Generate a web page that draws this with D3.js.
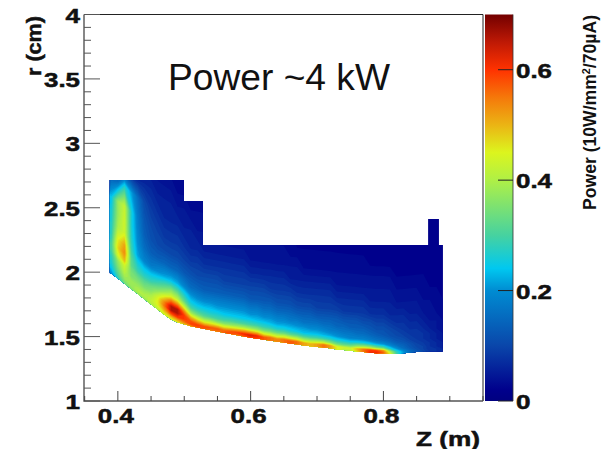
<!doctype html>
<meta charset="utf-8">
<title>Power ~4 kW</title>
<script src="https://cdn.jsdelivr.net/npm/d3@7"></script>
<style>
  html, body { margin: 0; background: white; }
  svg { display: block; }
  text { font-family: "Liberation Sans", sans-serif; fill: #111; }
  .tick-label, .axis-title, .bar-title { font-weight: bold; }
  .tick-label, .axis-title { stroke: #111; stroke-width: 0.5; }
</style>
<body>
<svg id="chart" width="606" height="449"></svg>
<script>

// Z of each profile column (m)
var zColumns = [0.39,0.40,0.41,0.42,0.43,0.44,0.45,0.46,0.47,0.48,0.49,0.50,0.51,0.52,0.53,0.54,0.55,0.56,0.57,0.58,0.59,
  0.60,0.61,0.62,0.63,0.64,0.65,0.66,0.67,0.68,0.69,0.70,0.71,0.72,0.73,0.74,0.75,0.76,0.77,0.78,0.79,
  0.80,0.81,0.82,0.83,0.84,0.85,0.86,0.87,0.88,0.89];

// lower edge of the map at each column (cm)
var floorR = [1.99,1.95,1.91,1.87,1.83,1.79,1.75,1.71,1.67,1.635,1.61,1.595,1.58,1.57,1.56,1.55,1.54,1.53,1.52,1.51,1.50,
  1.49,1.485,1.475,1.47,1.46,1.455,1.445,1.44,1.43,1.425,1.42,1.415,1.41,1.40,1.395,1.39,1.385,1.38,1.375,1.37,
  1.37,1.365,1.365,1.37,1.375,1.38,1.385,1.385,1.385,1.385];

// height above the lower edge of each profile sample (cm)
var heights = [0,0.02,0.04,0.07,0.10,0.14,0.18,0.24,0.30,0.40,0.50,0.60,0.75,0.90,1.10,1.35];

// upper outline of the map, left to right [z, r]
var topOutline = [[0.388,1.99],[0.388,2.715],[0.4994,2.715],[0.4994,2.552],[0.528,2.552],[0.528,2.21],
  [0.868,2.21],[0.868,2.412],[0.883,2.412],[0.883,2.21],[0.889,2.21],[0.889,1.385]];

// power x100, one list per Z column, one entry per height
var powerProfiles = [
  [20,22,24,26,27,28,30,30,28,27,26,24,14,5,4,4],
  [28,30,32,34,36,38,44,48,46,40,38,38,16,5,4,4],
  [34,36,38,40,42,44,50,54,52,44,44,43,28,5,4,4],
  [36,38,38,38,36,35,33,32,30,28,27,27,22,5,4,4],
  [38,40,40,38,36,33,29,26,22,20,19,18,16,6,4,4],
  [38,40,40,38,35,32,28,24,19,16,14,13,11,7,4,4],
  [40,42,42,40,37,34,29,24,18,14,12,11,9,7,4,4],
  [42,44,46,46,44,38,33,26,20,14,11,10,8,6,4,4],
  [44,48,52,56,54,46,38,30,22,15,11,9,7,6,4,4],
  [44,50,58,66,66,56,44,34,24,15,11,9,7,6,4,4],
  [46,52,60,66,66,54,42,32,23,15,11,9,7,5,3,3],
  [50,56,60,60,54,42,33,26,19,13,10,8,6,5,3,3],
  [54,60,58,50,40,31,26,21,16,12,9,7,6,4,3,3],
  [58,60,54,44,35,28,24,19,15,11,9,7,5,4,3,3],
  [58,58,50,40,32,27,23,18,14,11,8,6,5,4,3,3],
  [56,58,50,40,31,26,23,18,14,11,8,6,5,4,3,3],
  [56,58,50,38,30,26,22,18,14,11,8,6,4,3,3,3],
  [58,56,48,37,30,25,22,18,14,10,8,6,4,3,3,3],
  [58,58,50,38,31,25,22,18,14,10,8,6,4,3,3,3],
  [56,60,52,39,31,25,22,18,14,10,8,6,4,3,3,3],
  [58,62,54,40,31,25,22,18,14,10,8,6,4,3,3,3],
  [60,64,54,40,31,25,21,17,13,10,7,5,4,3,3,3],
  [60,62,52,38,30,24,21,17,13,10,7,5,4,3,2,2],
  [58,58,48,36,29,24,20,16,13,10,7,5,4,3,2,2],
  [56,56,46,35,28,23,20,16,13,9,7,5,4,3,2,2],
  [54,54,45,34,27,22,19,15,12,9,7,5,4,3,2,2],
  [56,56,46,34,27,22,19,15,12,9,7,5,4,3,2,2],
  [58,58,46,33,26,22,18,15,12,9,6,5,3,3,2,2],
  [56,56,44,32,25,21,18,14,11,8,6,5,3,2,2,2],
  [52,52,42,31,24,21,17,14,11,8,6,4,3,2,2,2],
  [50,50,41,30,24,20,17,14,11,8,6,4,3,2,2,2],
  [52,52,42,30,24,20,17,13,10,8,6,4,3,2,2,2],
  [56,56,42,29,23,19,16,13,10,8,6,4,3,2,2,2],
  [52,52,38,28,22,18,16,13,10,8,6,4,3,2,2,2],
  [46,46,35,27,21,18,15,13,10,7,5,4,3,2,2,2],
  [42,44,34,26,20,17,15,12,9,7,5,4,3,2,2,2],
  [42,44,34,25,19,17,14,12,9,7,5,4,3,2,2,2],
  [48,50,38,26,19,16,14,12,9,7,5,4,3,2,2,2],
  [56,56,40,26,19,16,14,11,9,7,5,4,3,2,2,2],
  [62,60,40,25,18,15,13,11,8,6,5,4,2,2,2,2],
  [62,60,38,23,17,14,12,10,8,6,5,4,2,2,2,2],
  [58,54,34,21,16,13,12,10,8,6,5,4,2,2,2,2],
  [46,40,27,19,15,12,11,9,7,6,5,4,2,2,2,2],
  [30,28,21,16,13,11,10,8,7,5,4,3,2,2,2,2],
  [22,20,16,14,12,10,9,8,7,5,4,3,2,2,2,2],
  [16,15,13,12,10,9,8,7,6,5,4,3,2,2,2,2],
  [13,12,11,10,9,8,8,7,6,5,4,3,2,2,2,2],
  [11,10,10,9,8,8,7,6,5,4,3,3,2,2,2,2],
  [9,8,8,8,7,7,6,5,4,4,3,2,2,2,2,2],
  [8,8,7,7,6,6,5,5,4,3,3,2,2,2,2,2],
  [7,7,6,6,5,5,4,4,3,3,2,2,2,2,2,2]
];

// palette of the colour bar
var colorStops = [0,0.02,0.1,0.2,0.24,0.3,0.4,0.45,0.5,0.55,0.6,0.65,0.7];
var colorValues = ['#000080','#00008c','#0a46aa','#008cd2','#00c8f0','#46d2a0','#aff046','#dcf51e','#ebb414','#f5780a','#ff3200','#be1905','#730000'];

var zTicks = [0.4,0.6,0.8];
var rTicks = [1,1.5,2,2.5,3,3.5,4];
var barTicks = [0,0.2,0.4,0.6];

var plot = { left: 84, right: 483, top: 14.5, bottom: 401 };
var bar = { left: 485, right: 513 };

var x = d3.scaleLinear().domain([0.349,0.95]).range([plot.left,plot.right]);
var y = d3.scaleLinear().domain([1,4]).range([plot.bottom,plot.top]);
var barY = d3.scaleLinear().domain([0,0.7]).range([plot.bottom,plot.top]);
var color = d3.scaleLinear().domain(colorStops).range(colorValues).clamp(true);

var floorAt = d3.scaleLinear().domain(zColumns).range(floorR);
var colToZ = d3.scaleLinear().domain(d3.range(zColumns.length)).range(zColumns);
var rowToH = d3.scaleLinear().domain(d3.range(heights.length)).range(heights);

var svg = d3.select('#chart');
var defs = svg.append('defs');

// map outline: floor going right to left closes the upper outline
var outline = topOutline.concat(zColumns.map(function(z, i) { return [z, floorR[i]]; }).reverse());
defs.append('clipPath').attr('id', 'map-clip')
  .append('path')
  .attr('d', d3.line().x(function(d) { return x(d[0]); }).y(function(d) { return y(d[1]); })(outline) + 'Z');

// flatten the profiles for d3.contours, rows are heights
var flat = [];
heights.forEach(function(h, j) {
  zColumns.forEach(function(z, i) { flat.push(powerProfiles[i][j] / 100); });
});

var contours = d3.contours()
  .size([zColumns.length, heights.length])
  .thresholds(d3.range(0, 0.7, 0.01))(flat);

// contour grid -> (z, height above floor) -> pixels
var toPixels = d3.geoTransform({
  point: function(i, j) {
    var z = colToZ(i - 0.5), h = rowToH(j - 0.5);
    this.stream.point(x(z), y(floorAt(z) + h));
  }
});
var contourPath = d3.geoPath(toPixels);

var map = svg.append('g').attr('clip-path', 'url(#map-clip)');
map.append('rect')
  .attr('x', plot.left).attr('y', plot.top)
  .attr('width', plot.right - plot.left).attr('height', plot.bottom - plot.top)
  .attr('fill', color(0.01));
map.selectAll('path.band')
  .data(contours)
  .enter().append('path')
  .attr('class', 'band')
  .attr('d', contourPath)
  .attr('fill', function(d) { return color(d.value); });

// colour bar
var grad = defs.append('linearGradient').attr('id', 'bar-grad')
  .attr('x1', 0).attr('x2', 0).attr('y1', 1).attr('y2', 0);
colorStops.forEach(function(s, i) {
  grad.append('stop').attr('offset', s / 0.7).attr('stop-color', colorValues[i]);
});
svg.append('rect')
  .attr('x', bar.left).attr('y', plot.top)
  .attr('width', bar.right - bar.left).attr('height', plot.bottom - plot.top)
  .attr('fill', 'url(#bar-grad)');
svg.append('line')
  .attr('x1', bar.right).attr('x2', bar.right).attr('y1', plot.top).attr('y2', plot.bottom)
  .attr('stroke', '#333').attr('stroke-width', 0.8);

// frame: top and right thin, left and bottom heavier grey
svg.append('path')
  .attr('d', 'M' + plot.left + ',' + plot.top + 'H' + plot.right + 'V' + plot.bottom)
  .attr('fill', 'none').attr('stroke', '#222').attr('stroke-width', 1);
svg.append('path')
  .attr('d', 'M' + plot.left + ',' + plot.top + 'V' + plot.bottom + 'H' + plot.right)
  .attr('fill', 'none').attr('stroke', '#555').attr('stroke-width', 1.4);

function drawTicks(values, pos, len, horizontal, x0, stroke) {
  svg.append('g').selectAll('line')
    .data(values)
    .enter().append('line')
    .attr('x1', horizontal ? function(d) { return pos(d); } : x0)
    .attr('x2', horizontal ? function(d) { return pos(d); } : x0 + len)
    .attr('y1', horizontal ? plot.bottom : function(d) { return pos(d); })
    .attr('y2', horizontal ? plot.bottom - len : function(d) { return pos(d); })
    .attr('stroke', stroke).attr('stroke-width', 1);
}

var rMinor = d3.range(1, 4.01, 0.1).filter(function(d) { return Math.abs(d * 2 - Math.round(d * 2)) > 1e-6; });
var zMinor = d3.range(0.35, 0.951, 0.05).filter(function(d) { return zTicks.every(function(t) { return Math.abs(t - d) > 1e-6; }); });
drawTicks(rTicks, y, 16, false, plot.left, '#555');
drawTicks(rMinor, y, 7, false, plot.left, '#555');
drawTicks(zTicks, x, 10, true, 0, '#444');
drawTicks(zMinor, x, 5, true, 0, '#444');
drawTicks(barTicks, barY, 15, false, bar.right - 15, '#222');

// tick labels, squeezed out wider than the font like the original
function tickLabel(selection, len) {
  selection.attr('class', 'tick-label')
    .attr('font-size', 20)
    .attr('textLength', len)
    .attr('lengthAdjust', 'spacingAndGlyphs');
}
function labelWidth(s) { return s.length === 1 ? 14.5 : 36; }

svg.append('g').selectAll('text')
  .data(rTicks)
  .enter().append('text')
  .text(function(d) { return String(d); })
  .attr('x', function(d) { return 80 - labelWidth(String(d)); })
  .attr('y', function(d) { return y(d) + 8; })
  .each(function(d) { tickLabel(d3.select(this), labelWidth(String(d))); });

svg.append('g').selectAll('text')
  .data(zTicks)
  .enter().append('text')
  .text(function(d) { return d3.format('.1f')(d); })
  .attr('x', function(d) { return x(d) - 20; })
  .attr('y', 423)
  .each(function() { tickLabel(d3.select(this), 36); });

svg.append('g').selectAll('text')
  .data(barTicks)
  .enter().append('text')
  .text(function(d) { return d === 0 ? '0' : d3.format('.1f')(d); })
  .attr('x', 516)
  .attr('y', function(d) { return barY(d) + 8; })
  .each(function(d) { tickLabel(d3.select(this), d === 0 ? 14.5 : 36); });

// titles
svg.append('text')
  .attr('x', 168).attr('y', 90)
  .attr('font-size', 37)
  .attr('textLength', 222).attr('lengthAdjust', 'spacingAndGlyphs')
  .text('Power ~4 kW');

svg.append('text').attr('class', 'axis-title')
  .attr('x', 416).attr('y', 446)
  .attr('font-size', 20)
  .attr('textLength', 64).attr('lengthAdjust', 'spacingAndGlyphs')
  .text('Z (m)');

svg.append('text').attr('class', 'axis-title')
  .attr('transform', 'translate(41,76) rotate(-90)')
  .attr('font-size', 21)
  .attr('textLength', 60).attr('lengthAdjust', 'spacingAndGlyphs')
  .text('r (cm)');

var barTitle = svg.append('text').attr('class', 'bar-title')
  .attr('transform', 'translate(596,210) rotate(-90)')
  .attr('font-size', 18)
  .attr('textLength', 195).attr('lengthAdjust', 'spacingAndGlyphs');
barTitle.append('tspan').text('Power (10W/mm');
barTitle.append('tspan').attr('dy', -6).attr('font-size', 11).text('2');
barTitle.append('tspan').attr('dy', 6).text('/70\u00b5A)');

</script>
</body>
